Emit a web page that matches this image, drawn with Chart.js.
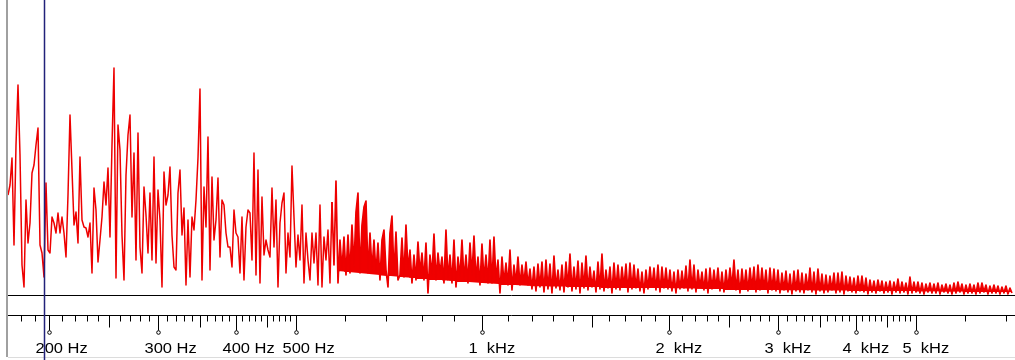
<!DOCTYPE html>
<html><head><meta charset="utf-8">
<script src="https://cdn.jsdelivr.net/npm/chart.js@4.4.0/dist/chart.umd.min.js"></script>
<style>html,body{margin:0;padding:0;background:#fff;overflow:hidden}#wrap{width:1015px;height:360px;position:relative}</style>
</head><body><div id="wrap"><canvas id="c" width="1015" height="360"></canvas></div>
<script>
// Log-frequency spectrum bins
const FIRST_BIN_HZ = 171.7;
const BINS_PER_DECADE = 310;
const FREQ_MIN = 171.7, FREQ_MAX = 7175;
const LEVEL_MIN = -20, LEVEL_MAX = 295;

// Spectrum level per bin
const spectrum = [
100,110,137,50,150,210,140,30,8,95,
52,72,122,130,150,167,50,42,18,112,
45,42,78,72,62,82,62,78,62,38,
100,180,125,70,83,52,138,75,68,67,
58,72,22,107,85,33,55,78,113,90,
127,58,150,227,17,170,145,60,15,120,
160,180,78,142,35,162,48,22,108,80,
42,102,35,138,32,105,75,8,123,90,
100,
128,60,28,25,102,125,60,87,10,75,
18,78,65,95,137,206,15,108,68,158,
25,118,55,75,117,38,95,90,62,48,
48,28,85,62,58,22,78,15,68,85,
82,35,142,20,125,12,98,40,55,45,
38,107,48,95,8,72,92,102,22,62,
38,129,78,28,60,35,90,12,62,35,
15,62,32,62,10,90,8,58,35,65,
12,
93,30,114,12,55,25,58,20,60,22,
70,28,83,102,22,70,88,94,22,62,
25,55,22,52,15,55,65,25,8,62,
79,20,63,15,
20,57,18,70,25,45,12,40,15,53,
22,42,15,52,2,40,20,61,15,42,
22,38,12,65,15,40,12,55,8,38,
18,55,15,40,12,52,20,59,15,38,
10,51,15,40,12,55,12,58,15,35,
2,38,12,32,10,45,5,30,12,38,
10,30,12,33,10,
26,6,28,4,31,8,33,3,35,6,
31,2,39,7,25,5,30,3,33,8,
41,4,28,6,34,2,32,7,39,5,
28,8,24,3,33,6,41,4,25,7,
28,2,32,6,30,5,28,8,31,3,
32,6,30,7,26,4,23,2,25,6,
28,8,27,5,30,3,28,7,27,6,
25,4,23,2,25,6,24,7,29,4,
35,6,30,3,25,8,23,5,26,2,
27,6,25,7,27,4,23,3,25,6,
27,8,35,5,25,2,26,6,25,4,
27,7,28,3,30,5,27,6,25,2,
27,5,26,
4,25,2,22,5,24,3,21,1,24,
4,25,3,22,2,21,5,27,3,23,
1,26,4,21,2,20,3,19,5,22,
2,22,3,23,1,19,4,18,3,17,
2,19,4,19,3,17,1,15,3,14,
2,15,4,14,2,13,3,14,1,13,
3,16,2,13,3,12,1,18,2,13,
3,13,2,12,1,11,3,12,2,11,
2,12,1,10,3,11,2,10,1,12,
2,13,3,11,1,10,2,11,2,10,
1,12,2,12,3,10,1,9,2,10,
2,9,1,8,2,9,1,7,2
];

// Lower edge of the dense noise band
const bandFloorHz = [585, 740, 1000, 1200, 2000, 3000, 5000, 7175];
const bandFloorLevel = [24, 18, 12, 9, 7, 5, 4, 3];

// Axis ticks
const majorTicksHz = [200,300,400,500,1000,2000,3000,4000,5000];
const majorTickLabels = ['200 Hz','300 Hz','400 Hz','500 Hz','1  kHz','2  kHz','3  kHz','4  kHz','5  kHz'];
const halfTicksHz = [250,350,450,1500,2500,3500,4500];
const minorTicksHz = [180,190,210,220,230,240,260,270,280,290,310,320,330,340,360,370,380,390,
  410,420,430,440,460,470,480,490,600,700,800,900,1100,1200,1300,1400,1600,1700,1800,1900,
  2100,2200,2300,2400,2600,2700,2800,2900,3100,3200,3300,3400,3600,3700,3800,3900,
  4100,4200,4300,4400,4600,4700,4800,4900,6000,7000];
const cursorHz = 196;

const points = spectrum.map((v, i) => ({x: FIRST_BIN_HZ * Math.pow(10, i / BINS_PER_DECADE), y: v}));
const floorPoints = bandFloorHz.map((h, i) => ({x: h, y: bandFloorLevel[i]}));

const axisPlugin = {
  id: 'audioAxis',
  afterDraw(chart) {
    const {ctx, chartArea} = chart;
    const x = chart.scales.x, y = chart.scales.y;
    ctx.save();
    ctx.strokeStyle = '#000'; ctx.lineWidth = 1;
    const yb = Math.round(y.getPixelForValue(0)) + 0.5;
    ctx.beginPath(); ctx.moveTo(chartArea.left, yb); ctx.lineTo(chart.width, yb); ctx.stroke();
    const ya = Math.round(chartArea.bottom) + 0.5;
    ctx.beginPath(); ctx.moveTo(chartArea.left, ya); ctx.lineTo(chart.width, ya); ctx.stroke();
    const tick = (hz, len) => {
      const px = Math.round(x.getPixelForValue(hz)) + 0.5;
      ctx.beginPath(); ctx.moveTo(px, ya); ctx.lineTo(px, ya + len); ctx.stroke();
      return px;
    };
    minorTicksHz.forEach(h => tick(h, 6));
    halfTicksHz.forEach(h => tick(h, 12));
    ctx.font = '15px "Liberation Sans", Arial, sans-serif';
    ctx.fillStyle = '#000'; ctx.textAlign = 'left'; ctx.textBaseline = 'alphabetic';
    majorTicksHz.forEach((h, k) => {
      const px = tick(h, 15);
      ctx.beginPath(); ctx.arc(px, ya + 17, 1.8, 0, Math.PI * 2); ctx.stroke();
      ctx.save(); ctx.translate(px - 14, 353); ctx.scale(1.1, 1);
      ctx.fillText(majorTickLabels[k], 0, 0); ctx.restore();
    });
    ctx.fillStyle = '#a0a0a0'; ctx.fillRect(6, 0, 2, 357);
    ctx.fillStyle = '#dcdcdc'; ctx.fillRect(8, 357, chart.width - 8, 1);
    const cx = Math.round(x.getPixelForValue(cursorHz)) + 0.5;
    ctx.strokeStyle = '#22227a'; ctx.lineWidth = 1.5;
    ctx.beginPath(); ctx.moveTo(cx, 0); ctx.lineTo(cx, 360); ctx.stroke();
    ctx.restore();
  }
};

new Chart(document.getElementById('c'), {
  type: 'line',
  data: { datasets: [{
    data: points,
    borderColor: '#ee0000',
    backgroundColor: '#f00000',
    borderWidth: 1.5,
    borderJoinStyle: 'round',
    pointRadius: 0,
    tension: 0,
    fill: '+1',
    segment: {
      borderWidth: c => c.p0DataIndex < 162 ? 1.5 : 1.7
    }
  }, {
    data: floorPoints,
    borderWidth: 0,
    borderColor: 'rgba(0,0,0,0)',
    backgroundColor: 'rgba(0,0,0,0)',
    pointRadius: 0,
    tension: 0,
    fill: false
  }]},
  options: {
    responsive: false,
    animation: false,
    devicePixelRatio: 1,
    parsing: false,
    events: [],
    layout: { padding: { left: 8, right: 2, top: 0, bottom: 45 } },
    plugins: { legend: { display: false }, tooltip: { enabled: false }, filler: { propagate: false } },
    scales: {
      x: { type: 'logarithmic', min: FREQ_MIN, max: FREQ_MAX, display: false },
      y: { type: 'linear', min: LEVEL_MIN, max: LEVEL_MAX, display: false }
    }
  },
  plugins: [axisPlugin]
});
</script>
</body></html>
